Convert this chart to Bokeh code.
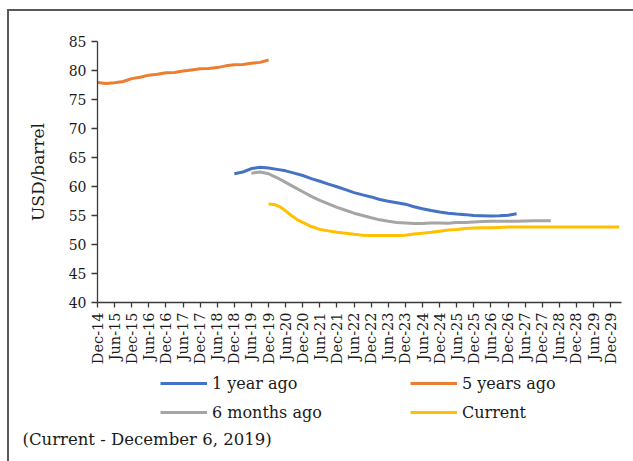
import math
from bokeh.plotting import figure
from bokeh.layouts import column
from bokeh.models import Range1d, FixedTicker, Legend, LegendItem, Title
from bokeh.embed import file_html
from bokeh.resources import INLINE

# x positions are months counted from Dec-2014
tick_labels = ["Dec-14", "Jun-15", "Dec-15", "Jun-16", "Dec-16", "Jun-17", "Dec-17", "Jun-18",
               "Dec-18", "Jun-19", "Dec-19", "Jun-20", "Dec-20", "Jun-21", "Dec-21", "Jun-22",
               "Dec-22", "Jun-23", "Dec-23", "Jun-24", "Dec-24", "Jun-25", "Dec-25", "Jun-26",
               "Dec-26", "Jun-27", "Dec-27", "Jun-28", "Dec-28", "Jun-29", "Dec-29"]
y_ticks = [40, 45, 50, 55, 60, 65, 70, 75, 80, 85]

series_names = ["1 year ago", "5 years ago", "6 months ago", "Current"]
series_colors = ["#4472C4", "#ED7D31", "#A5A5A5", "#FFC000"]

months_5y = [0, 3, 6, 9, 12, 15, 18, 21, 24, 27, 30, 33, 36, 39, 42, 45, 48, 51, 54, 57, 60]
values_5y = [77.95, 77.75, 77.9, 78.1, 78.6, 78.85, 79.2, 79.35, 79.6, 79.65, 79.9, 80.1, 80.3,
             80.35, 80.5, 80.8, 81.0, 81.05, 81.25, 81.4, 81.8]

months_1y = [48, 51, 54, 57, 60, 63, 66, 69, 72, 75, 78, 81, 84, 87, 90, 93, 96, 99, 102, 105,
             108, 111, 114, 117, 120, 123, 126, 129, 132, 135, 138, 141, 144, 147]
values_1y = [62.2, 62.5, 63.1, 63.3, 63.2, 62.95, 62.7, 62.3, 61.9, 61.35, 60.9, 60.4, 59.95,
             59.45, 58.95, 58.55, 58.2, 57.75, 57.45, 57.2, 56.95, 56.5, 56.15, 55.85, 55.6,
             55.4, 55.25, 55.15, 55.0, 54.95, 54.9, 54.95, 55.05, 55.3]

months_6m = [54, 57, 60, 63, 66, 69, 72, 75, 78, 81, 84, 87, 90, 93, 96, 99, 102, 105, 108,
             111, 114, 117, 120, 123, 126, 129, 132, 135, 138, 141, 144, 147, 150, 153, 156, 159]
values_6m = [62.3, 62.5, 62.2, 61.5, 60.7, 59.9, 59.1, 58.3, 57.6, 57.0, 56.4, 55.9, 55.4,
             55.0, 54.6, 54.25, 54.0, 53.8, 53.7, 53.6, 53.6, 53.7, 53.7, 53.65, 53.8, 53.8,
             53.9, 53.95, 54.0, 54.0, 54.0, 54.0, 54.05, 54.1, 54.1, 54.1]

months_cur = [60, 62, 64, 66, 68, 70, 72, 75, 78, 81, 84, 87, 90, 93, 96, 99, 102, 105, 108,
              111, 114, 117, 120, 123, 126, 129, 132, 135, 138, 141, 144, 150, 156, 162, 168,
              174, 180, 183]
values_cur = [57.0, 56.9, 56.5, 55.8, 55.0, 54.3, 53.8, 53.1, 52.6, 52.35, 52.1, 51.95, 51.75,
              51.6, 51.55, 51.55, 51.55, 51.55, 51.6, 51.8, 51.95, 52.1, 52.3, 52.5, 52.6,
              52.75, 52.85, 52.9, 52.9, 52.95, 53.0, 53.0, 53.0, 53.0, 53.0, 53.0, 53.0, 53.0]

note_text = "(Current - December 6, 2019)"

FONT = "DejaVu Serif"
TXT = "#1a1a1a"
AX = "#3a3a3a"
BORDER = "2px solid #595959"

# ---- main chart ----
p = figure(frame_width=522, frame_height=259, output_backend="svg", toolbar_location=None,
           x_range=Range1d(0, 183.8), y_range=Range1d(40, 85),
           min_border_left=88, min_border_top=30, min_border_right=14, min_border_bottom=64)
p.margin = (9, 0, 0, 7)
p.styles = {"border-top": BORDER, "border-left": BORDER}

p.xgrid.visible = False
p.ygrid.visible = False
p.outline_line_color = None

p.line(months_1y, values_1y, line_color=series_colors[0], line_width=3)
p.line(months_5y, values_5y, line_color=series_colors[1], line_width=3)
p.line(months_6m, values_6m, line_color=series_colors[2], line_width=3)
p.line(months_cur, values_cur, line_color=series_colors[3], line_width=3)

tick_pos = [i * 6 for i in range(len(tick_labels))]
p.xaxis.ticker = FixedTicker(ticks=tick_pos)
p.xaxis.major_label_overrides = {t: lab for t, lab in zip(tick_pos, tick_labels)}
p.xaxis.major_label_orientation = math.pi / 2
p.xaxis.minor_tick_line_color = None
p.xaxis.major_tick_out = 5
p.xaxis.major_tick_in = 0
p.xaxis.major_label_standoff = 5
p.xaxis.major_label_text_font = FONT
p.xaxis.major_label_text_font_size = "14.5px"
p.xaxis.major_label_text_color = TXT

p.yaxis.ticker = FixedTicker(ticks=y_ticks)
p.yaxis.minor_tick_line_color = None
p.yaxis.major_tick_out = 6
p.yaxis.major_tick_in = 0
p.yaxis.major_label_standoff = 5
p.yaxis.major_label_text_font = FONT
p.yaxis.major_label_text_font_size = "14px"
p.yaxis.major_label_text_color = TXT
p.yaxis.axis_label = "USD/barrel"
p.yaxis.axis_label_text_font = FONT
p.yaxis.axis_label_text_font_size = "17px"
p.yaxis.axis_label_text_font_style = "normal"
p.yaxis.axis_label_text_color = TXT
p.yaxis.axis_label_standoff = 18

for ax in (p.xaxis, p.yaxis):
    ax.axis_line_color = AX
    ax.major_tick_line_color = AX
    ax.axis_line_width = 1.3
    ax.major_tick_line_width = 1.3

# ---- legend + note strip (its frame is aligned with the chart frame) ----
p2 = figure(frame_width=522, frame_height=62, output_backend="svg", toolbar_location=None,
            x_range=Range1d(0, 1), y_range=Range1d(0, 1),
            min_border_left=88, min_border_right=14, min_border_top=0, min_border_bottom=34,
            x_axis_type=None, y_axis_type=None)
p2.margin = (0, 0, 0, 7)
p2.styles = {"border-left": BORDER}
p2.xgrid.visible = False
p2.ygrid.visible = False
p2.outline_line_color = None

items = []
for name, col in zip(series_names, series_colors):
    # swatch renderer kept outside the visible range, used only for the legend key
    r = p2.line([-2, -1], [-2, -2], line_color=col, line_width=3)
    items.append(LegendItem(label=name, renderers=[r]))

legend = Legend(items=items, orientation="horizontal", ncols=2, location=(63, 2))
legend.label_text_font = FONT
legend.label_text_font_size = "16px"
legend.label_text_color = TXT
legend.glyph_width = 47
legend.glyph_height = 26
legend.label_height = 26
legend.label_width = 195
legend.label_standoff = 5
legend.spacing = 3
legend.padding = 0
legend.margin = 0
legend.border_line_color = None
legend.background_fill_alpha = 0
p2.add_layout(legend, "center")

note = Title(text=note_text, align="left", offset=-75,
             text_font=FONT, text_font_size="16.5px", text_font_style="normal",
             text_color=TXT, standoff=0)
p2.add_layout(note, "below")

layout = column(p, p2, spacing=0)
open("out.html", "w").write(file_html(layout, INLINE))
